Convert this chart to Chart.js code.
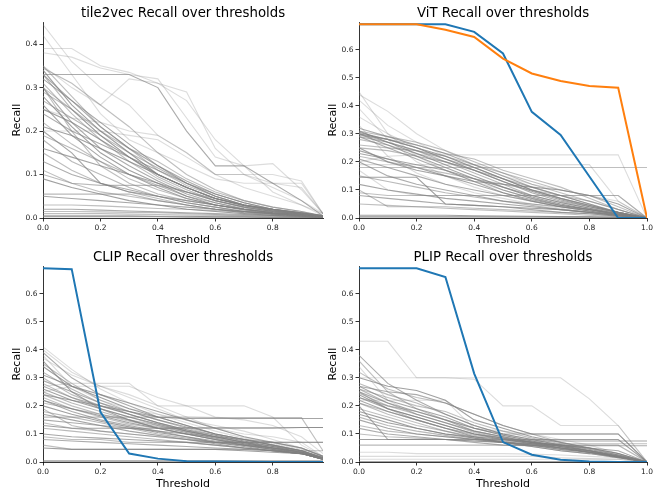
<!DOCTYPE html>
<html>
<head>
<meta charset="utf-8">
<title>Recall over thresholds</title>
<script src="https://cdn.jsdelivr.net/npm/chart.js@4.4.1/dist/chart.umd.min.js"></script>
<style>
  html, body { margin: 0; padding: 0; background: #fff; }
  #wrap { position: relative; width: 661px; height: 491px; overflow: hidden; }
  #wrap canvas { position: absolute; }
</style>
</head>
<body>
<div id="wrap">
  <canvas id="tile2vecChart" width="330" height="250" style="left:0;top:0"></canvas>
  <canvas id="vitChart" width="343" height="250" style="left:318px;top:0"></canvas>
  <canvas id="clipChart" width="330" height="246" style="left:0;top:245px"></canvas>
  <canvas id="plipChart" width="343" height="246" style="left:318px;top:245px"></canvas>
</div>
<script>
// thresholds (x values); tile2vec and CLIP stop short of 1.0
const thresholdsShort = [0, 0.1, 0.2, 0.3, 0.4, 0.5, 0.6, 0.7, 0.8, 0.9, 0.975];
const thresholdsFull = [0, 0.1, 0.2, 0.3, 0.4, 0.5, 0.6, 0.7, 0.8, 0.9, 1.0];

// ---- tile2vec: per-class recall curves ----
const tile2vecDark = [
  [0.33, 0.33, 0.33, 0.33, 0.30, 0.20, 0.12, 0.12, 0.08, 0.04, 0.005],
  [0.35, 0.28, 0.21, 0.16, 0.11, 0.075, 0.05, 0.03, 0.02, 0.012, 0.005],
  [0.34, 0.26, 0.20, 0.15, 0.10, 0.07, 0.045, 0.028, 0.018, 0.01, 0.004],
  [0.33, 0.25, 0.19, 0.14, 0.095, 0.065, 0.04, 0.025, 0.015, 0.01, 0.004],
  [0.32, 0.27, 0.22, 0.17, 0.12, 0.08, 0.055, 0.035, 0.02, 0.012, 0.005],
  [0.31, 0.24, 0.18, 0.13, 0.09, 0.06, 0.04, 0.025, 0.015, 0.01, 0.004],
  [0.30, 0.22, 0.16, 0.12, 0.085, 0.055, 0.035, 0.02, 0.012, 0.008, 0.003],
  [0.29, 0.25, 0.20, 0.16, 0.13, 0.09, 0.06, 0.04, 0.025, 0.015, 0.005],
  [0.28, 0.21, 0.15, 0.11, 0.08, 0.05, 0.03, 0.02, 0.012, 0.008, 0.003],
  [0.27, 0.23, 0.19, 0.15, 0.115, 0.08, 0.05, 0.03, 0.018, 0.01, 0.004],
  [0.26, 0.19, 0.14, 0.10, 0.07, 0.045, 0.03, 0.018, 0.01, 0.006, 0.002],
  [0.345, 0.31, 0.26, 0.21, 0.15, 0.10, 0.065, 0.04, 0.025, 0.015, 0.005],
  [0.24, 0.20, 0.17, 0.14, 0.11, 0.08, 0.05, 0.03, 0.02, 0.01, 0.004],
  [0.22, 0.17, 0.13, 0.09, 0.065, 0.045, 0.03, 0.02, 0.012, 0.008, 0.003],
  [0.21, 0.19, 0.16, 0.13, 0.10, 0.07, 0.045, 0.03, 0.02, 0.012, 0.005],
  [0.18, 0.13, 0.10, 0.07, 0.05, 0.035, 0.025, 0.015, 0.01, 0.006, 0.002],
  [0.16, 0.14, 0.12, 0.10, 0.08, 0.06, 0.04, 0.025, 0.015, 0.01, 0.004],
  [0.15, 0.11, 0.08, 0.06, 0.045, 0.03, 0.02, 0.012, 0.008, 0.005, 0.002],
  [0.13, 0.10, 0.08, 0.065, 0.05, 0.035, 0.025, 0.015, 0.01, 0.006, 0.003],
  [0.11, 0.08, 0.06, 0.05, 0.04, 0.03, 0.02, 0.012, 0.008, 0.005, 0.002],
  [0.09, 0.07, 0.055, 0.04, 0.03, 0.02, 0.015, 0.01, 0.006, 0.004, 0.002],
  [0.055, 0.055, 0.055, 0.055, 0.04, 0.03, 0.02, 0.015, 0.01, 0.006, 0.003],
  [0.05, 0.045, 0.04, 0.035, 0.03, 0.025, 0.02, 0.015, 0.01, 0.005, 0.002],
  [0.03, 0.03, 0.028, 0.025, 0.022, 0.02, 0.017, 0.014, 0.01, 0.006, 0.003],
  [0.02, 0.02, 0.018, 0.016, 0.014, 0.012, 0.01, 0.008, 0.006, 0.004, 0.002],
  [0.01, 0.01, 0.01, 0.009, 0.008, 0.007, 0.006, 0.005, 0.004, 0.003, 0.001],
  [0.003, 0.003, 0.003, 0.003, 0.003, 0.002, 0.002, 0.002, 0.001, 0.001, 0.001],
  [0.10, 0.08, 0.075, 0.075, 0.075, 0.06, 0.045, 0.03, 0.02, 0.01, 0.003],
  [0.20, 0.15, 0.08, 0.06, 0.05, 0.04, 0.03, 0.02, 0.012, 0.008, 0.003],
  [0.30, 0.20, 0.12, 0.08, 0.055, 0.04, 0.03, 0.02, 0.012, 0.008, 0.003],
  [0.33, 0.27, 0.21, 0.16, 0.12, 0.085, 0.055, 0.035, 0.02, 0.012, 0.005],
  [0.30, 0.25, 0.19, 0.14, 0.10, 0.07, 0.045, 0.03, 0.018, 0.01, 0.004],
  [0.25, 0.22, 0.18, 0.14, 0.10, 0.07, 0.045, 0.028, 0.016, 0.01, 0.004],
  [0.19, 0.16, 0.13, 0.10, 0.075, 0.05, 0.035, 0.022, 0.014, 0.008, 0.003],
  [0.005, 0.005, 0.005, 0.005, 0.004, 0.004, 0.003, 0.003, 0.002, 0.002, 0.001],
  [0.015, 0.015, 0.014, 0.013, 0.012, 0.01, 0.008, 0.006, 0.005, 0.003, 0.002]
];
const tile2vecFaint = [
  [0.445, 0.36, 0.30, 0.26, 0.19, 0.15, 0.10, 0.07, 0.05, 0.03, 0.01],
  [0.39, 0.39, 0.35, 0.335, 0.31, 0.29, 0.16, 0.10, 0.07, 0.04, 0.01],
  [0.38, 0.37, 0.345, 0.33, 0.32, 0.23, 0.14, 0.12, 0.125, 0.065, 0.01],
  [0.42, 0.33, 0.24, 0.18, 0.15, 0.12, 0.09, 0.08, 0.08, 0.08, 0.01],
  [0.35, 0.30, 0.26, 0.32, 0.31, 0.27, 0.18, 0.12, 0.06, 0.03, 0.005],
  [0.20, 0.20, 0.20, 0.19, 0.18, 0.14, 0.10, 0.10, 0.08, 0.07, 0.01],
  [0.25, 0.23, 0.22, 0.20, 0.19, 0.15, 0.10, 0.10, 0.10, 0.085, 0.01]
];

// ---- ViT ----
const vitBlue = [0.69, 0.69, 0.69, 0.69, 0.663, 0.586, 0.378, 0.296, 0.148, 0.0, 0.0];
const vitOrange = [0.69, 0.69, 0.69, 0.671, 0.645, 0.568, 0.515, 0.488, 0.47, 0.464, 0.0];
const vitDark = [
  [0.32, 0.29, 0.26, 0.23, 0.19, 0.15, 0.11, 0.08, 0.05, 0.02, 0.0],
  [0.31, 0.29, 0.27, 0.24, 0.20, 0.16, 0.12, 0.09, 0.06, 0.03, 0.0],
  [0.305, 0.28, 0.25, 0.22, 0.18, 0.14, 0.10, 0.07, 0.045, 0.02, 0.0],
  [0.30, 0.27, 0.24, 0.20, 0.16, 0.12, 0.08, 0.055, 0.035, 0.015, 0.0],
  [0.30, 0.26, 0.22, 0.18, 0.14, 0.10, 0.07, 0.045, 0.03, 0.012, 0.0],
  [0.295, 0.28, 0.26, 0.23, 0.21, 0.17, 0.14, 0.11, 0.07, 0.03, 0.0],
  [0.29, 0.25, 0.21, 0.17, 0.13, 0.09, 0.06, 0.04, 0.025, 0.01, 0.0],
  [0.28, 0.26, 0.23, 0.20, 0.17, 0.13, 0.09, 0.06, 0.04, 0.02, 0.0],
  [0.31, 0.27, 0.23, 0.19, 0.15, 0.11, 0.075, 0.05, 0.03, 0.012, 0.0],
  [0.25, 0.24, 0.22, 0.20, 0.17, 0.14, 0.11, 0.08, 0.05, 0.02, 0.0],
  [0.24, 0.21, 0.18, 0.15, 0.12, 0.09, 0.065, 0.045, 0.03, 0.012, 0.0],
  [0.22, 0.20, 0.18, 0.16, 0.14, 0.12, 0.10, 0.08, 0.06, 0.03, 0.0],
  [0.21, 0.18, 0.15, 0.12, 0.10, 0.08, 0.06, 0.04, 0.025, 0.01, 0.0],
  [0.18, 0.18, 0.18, 0.18, 0.18, 0.18, 0.18, 0.18, 0.18, 0.18, 0.18],
  [0.145, 0.145, 0.145, 0.05, 0.045, 0.04, 0.035, 0.03, 0.02, 0.01, 0.0],
  [0.15, 0.13, 0.11, 0.09, 0.075, 0.06, 0.045, 0.03, 0.02, 0.008, 0.0],
  [0.12, 0.10, 0.085, 0.07, 0.06, 0.05, 0.04, 0.03, 0.02, 0.008, 0.0],
  [0.10, 0.04, 0.04, 0.04, 0.035, 0.03, 0.025, 0.02, 0.015, 0.006, 0.0],
  [0.08, 0.07, 0.06, 0.05, 0.045, 0.04, 0.03, 0.02, 0.015, 0.006, 0.0],
  [0.05, 0.045, 0.04, 0.035, 0.03, 0.025, 0.02, 0.015, 0.01, 0.005, 0.0],
  [0.01, 0.01, 0.01, 0.01, 0.008, 0.007, 0.006, 0.005, 0.004, 0.002, 0.0],
  [0.003, 0.003, 0.003, 0.003, 0.003, 0.003, 0.003, 0.003, 0.003, 0.002, 0.0],
  [0.25, 0.20, 0.17, 0.15, 0.13, 0.12, 0.11, 0.10, 0.08, 0.05, 0.0],
  [0.26, 0.25, 0.24, 0.22, 0.19, 0.16, 0.13, 0.10, 0.08, 0.04, 0.0],
  [0.20, 0.15, 0.12, 0.10, 0.08, 0.06, 0.05, 0.04, 0.03, 0.015, 0.0],
  [0.09, 0.08, 0.08, 0.08, 0.08, 0.08, 0.08, 0.08, 0.08, 0.08, 0.0],
  [0.30, 0.28, 0.25, 0.21, 0.17, 0.13, 0.095, 0.065, 0.04, 0.018, 0.0],
  [0.29, 0.27, 0.24, 0.21, 0.18, 0.14, 0.10, 0.07, 0.045, 0.02, 0.0],
  [0.23, 0.21, 0.19, 0.17, 0.14, 0.11, 0.08, 0.055, 0.035, 0.015, 0.0],
  [0.005, 0.005, 0.005, 0.005, 0.005, 0.004, 0.004, 0.003, 0.003, 0.002, 0.0]
];
const vitFaint = [
  [0.45, 0.30, 0.22, 0.17, 0.13, 0.10, 0.07, 0.05, 0.03, 0.015, 0.0],
  [0.42, 0.33, 0.27, 0.22, 0.18, 0.14, 0.10, 0.07, 0.04, 0.02, 0.0],
  [0.39, 0.28, 0.20, 0.15, 0.11, 0.08, 0.06, 0.04, 0.025, 0.01, 0.0],
  [0.36, 0.30, 0.25, 0.21, 0.17, 0.13, 0.09, 0.06, 0.035, 0.015, 0.0],
  [0.33, 0.22, 0.16, 0.12, 0.09, 0.07, 0.05, 0.035, 0.02, 0.01, 0.0],
  [0.44, 0.38, 0.30, 0.24, 0.19, 0.15, 0.12, 0.10, 0.08, 0.06, 0.0],
  [0.20, 0.22, 0.225, 0.225, 0.225, 0.225, 0.225, 0.225, 0.225, 0.225, 0.0],
  [0.19, 0.19, 0.19, 0.19, 0.19, 0.19, 0.19, 0.19, 0.19, 0.06, 0.0],
  [0.17, 0.10, 0.08, 0.08, 0.08, 0.08, 0.08, 0.08, 0.08, 0.08, 0.0]
];

// ---- CLIP ----
const clipBlue = [0.69, 0.687, 0.178, 0.03, 0.012, 0.003, 0.002, 0.001, 0.0, 0.0, 0.0];
const clipDark = [
  [0.39, 0.30, 0.24, 0.20, 0.16, 0.13, 0.10, 0.08, 0.06, 0.04, 0.012],
  [0.35, 0.28, 0.22, 0.18, 0.15, 0.12, 0.095, 0.075, 0.055, 0.035, 0.012],
  [0.34, 0.27, 0.23, 0.19, 0.16, 0.13, 0.10, 0.08, 0.06, 0.04, 0.015],
  [0.32, 0.26, 0.21, 0.17, 0.14, 0.115, 0.09, 0.07, 0.05, 0.035, 0.012],
  [0.31, 0.27, 0.24, 0.21, 0.18, 0.15, 0.12, 0.09, 0.07, 0.05, 0.02],
  [0.30, 0.24, 0.20, 0.17, 0.14, 0.11, 0.09, 0.07, 0.05, 0.035, 0.01],
  [0.29, 0.25, 0.21, 0.18, 0.15, 0.125, 0.10, 0.08, 0.06, 0.04, 0.015],
  [0.28, 0.23, 0.19, 0.16, 0.13, 0.105, 0.085, 0.065, 0.05, 0.03, 0.01],
  [0.26, 0.22, 0.19, 0.16, 0.135, 0.11, 0.09, 0.07, 0.055, 0.04, 0.015],
  [0.25, 0.21, 0.18, 0.15, 0.12, 0.10, 0.08, 0.06, 0.045, 0.03, 0.01],
  [0.24, 0.22, 0.20, 0.18, 0.16, 0.155, 0.155, 0.155, 0.155, 0.155, 0.155],
  [0.23, 0.19, 0.16, 0.135, 0.12, 0.123, 0.123, 0.123, 0.123, 0.123, 0.123],
  [0.22, 0.18, 0.15, 0.13, 0.11, 0.09, 0.075, 0.06, 0.045, 0.03, 0.01],
  [0.21, 0.19, 0.17, 0.15, 0.13, 0.11, 0.09, 0.07, 0.05, 0.035, 0.012],
  [0.20, 0.17, 0.145, 0.125, 0.105, 0.09, 0.07, 0.055, 0.04, 0.03, 0.01],
  [0.18, 0.16, 0.14, 0.12, 0.10, 0.085, 0.07, 0.07, 0.07, 0.07, 0.07],
  [0.17, 0.15, 0.13, 0.11, 0.095, 0.08, 0.065, 0.05, 0.04, 0.03, 0.01],
  [0.16, 0.16, 0.16, 0.16, 0.16, 0.16, 0.158, 0.158, 0.158, 0.158, 0.04],
  [0.15, 0.14, 0.13, 0.12, 0.11, 0.10, 0.09, 0.08, 0.07, 0.05, 0.02],
  [0.14, 0.12, 0.11, 0.10, 0.09, 0.08, 0.07, 0.06, 0.05, 0.04, 0.015],
  [0.13, 0.12, 0.12, 0.12, 0.12, 0.12, 0.12, 0.12, 0.12, 0.123, 0.123],
  [0.12, 0.11, 0.10, 0.09, 0.08, 0.07, 0.06, 0.05, 0.04, 0.03, 0.01],
  [0.10, 0.09, 0.085, 0.08, 0.075, 0.07, 0.06, 0.05, 0.04, 0.03, 0.01],
  [0.09, 0.08, 0.08, 0.07, 0.07, 0.07, 0.07, 0.07, 0.07, 0.07, 0.07],
  [0.08, 0.075, 0.07, 0.065, 0.06, 0.055, 0.05, 0.045, 0.04, 0.03, 0.01],
  [0.06, 0.045, 0.045, 0.045, 0.045, 0.045, 0.045, 0.045, 0.04, 0.04, 0.04],
  [0.05, 0.045, 0.045, 0.045, 0.045, 0.045, 0.045, 0.04, 0.035, 0.03, 0.015],
  [0.002, 0.002, 0.002, 0.002, 0.002, 0.002, 0.002, 0.002, 0.002, 0.002, 0.002],
  [0.36, 0.25, 0.19, 0.15, 0.12, 0.10, 0.08, 0.06, 0.045, 0.03, 0.01],
  [0.19, 0.13, 0.11, 0.10, 0.09, 0.08, 0.07, 0.06, 0.05, 0.035, 0.012],
  [0.27, 0.23, 0.20, 0.17, 0.14, 0.115, 0.095, 0.075, 0.055, 0.035, 0.012],
  [0.24, 0.20, 0.17, 0.145, 0.125, 0.105, 0.085, 0.065, 0.05, 0.035, 0.012],
  [0.22, 0.19, 0.165, 0.14, 0.12, 0.10, 0.08, 0.065, 0.05, 0.035, 0.012],
  [0.005, 0.005, 0.005, 0.005, 0.005, 0.005, 0.005, 0.005, 0.005, 0.005, 0.005]
];
const clipFaint = [
  [0.41, 0.33, 0.26, 0.21, 0.17, 0.14, 0.11, 0.085, 0.06, 0.04, 0.015],
  [0.37, 0.31, 0.27, 0.23, 0.19, 0.15, 0.12, 0.09, 0.065, 0.045, 0.015],
  [0.27, 0.28, 0.28, 0.28, 0.20, 0.20, 0.20, 0.20, 0.16, 0.06, 0.02],
  [0.38, 0.27, 0.22, 0.19, 0.17, 0.15, 0.13, 0.11, 0.08, 0.05, 0.02],
  [0.40, 0.32, 0.27, 0.24, 0.20, 0.16, 0.12, 0.10, 0.09, 0.07, 0.02],
  [0.25, 0.27, 0.27, 0.27, 0.23, 0.20, 0.16, 0.15, 0.13, 0.09, 0.03]
];

// ---- PLIP ----
const plipBlue = [0.69, 0.69, 0.69, 0.659, 0.315, 0.071, 0.026, 0.008, 0.002, 0.0, 0.0];
const plipDark = [
  [0.38, 0.28, 0.22, 0.17, 0.13, 0.10, 0.08, 0.06, 0.04, 0.02, 0.0],
  [0.36, 0.25, 0.19, 0.15, 0.12, 0.095, 0.075, 0.055, 0.035, 0.02, 0.0],
  [0.30, 0.27, 0.255, 0.22, 0.15, 0.12, 0.09, 0.07, 0.05, 0.03, 0.0],
  [0.28, 0.24, 0.21, 0.17, 0.13, 0.10, 0.08, 0.06, 0.04, 0.02, 0.0],
  [0.27, 0.22, 0.19, 0.16, 0.12, 0.095, 0.075, 0.055, 0.04, 0.02, 0.0],
  [0.26, 0.23, 0.20, 0.18, 0.14, 0.11, 0.085, 0.065, 0.045, 0.025, 0.0],
  [0.25, 0.21, 0.18, 0.15, 0.11, 0.09, 0.07, 0.05, 0.035, 0.018, 0.0],
  [0.245, 0.20, 0.17, 0.14, 0.105, 0.085, 0.065, 0.05, 0.035, 0.018, 0.0],
  [0.24, 0.19, 0.16, 0.13, 0.10, 0.08, 0.065, 0.05, 0.035, 0.018, 0.0],
  [0.23, 0.20, 0.18, 0.15, 0.12, 0.10, 0.10, 0.10, 0.10, 0.10, 0.0],
  [0.22, 0.18, 0.15, 0.12, 0.09, 0.07, 0.055, 0.04, 0.03, 0.015, 0.0],
  [0.21, 0.17, 0.14, 0.11, 0.085, 0.07, 0.055, 0.04, 0.03, 0.015, 0.0],
  [0.20, 0.08, 0.08, 0.08, 0.075, 0.07, 0.065, 0.06, 0.05, 0.04, 0.0],
  [0.19, 0.16, 0.13, 0.11, 0.09, 0.075, 0.06, 0.045, 0.035, 0.018, 0.0],
  [0.18, 0.15, 0.12, 0.10, 0.085, 0.07, 0.06, 0.045, 0.035, 0.018, 0.0],
  [0.16, 0.13, 0.11, 0.095, 0.08, 0.07, 0.06, 0.05, 0.04, 0.02, 0.0],
  [0.15, 0.12, 0.10, 0.09, 0.08, 0.075, 0.075, 0.075, 0.075, 0.075, 0.075],
  [0.13, 0.11, 0.10, 0.09, 0.08, 0.07, 0.065, 0.065, 0.065, 0.065, 0.065],
  [0.12, 0.10, 0.09, 0.08, 0.07, 0.06, 0.058, 0.058, 0.058, 0.058, 0.058],
  [0.10, 0.09, 0.085, 0.08, 0.075, 0.07, 0.06, 0.05, 0.04, 0.025, 0.0],
  [0.08, 0.08, 0.08, 0.08, 0.08, 0.08, 0.08, 0.08, 0.08, 0.08, 0.0],
  [0.06, 0.06, 0.06, 0.06, 0.06, 0.06, 0.06, 0.06, 0.06, 0.06, 0.0],
  [0.002, 0.002, 0.002, 0.002, 0.002, 0.002, 0.002, 0.002, 0.002, 0.002, 0.0],
  [0.32, 0.26, 0.23, 0.21, 0.17, 0.13, 0.10, 0.07, 0.05, 0.025, 0.0],
  [0.27, 0.25, 0.24, 0.21, 0.17, 0.13, 0.10, 0.10, 0.10, 0.10, 0.0],
  [0.25, 0.19, 0.15, 0.12, 0.10, 0.085, 0.07, 0.06, 0.045, 0.025, 0.0],
  [0.17, 0.14, 0.12, 0.10, 0.09, 0.08, 0.07, 0.06, 0.05, 0.03, 0.0],
  [0.26, 0.21, 0.17, 0.14, 0.11, 0.09, 0.07, 0.055, 0.04, 0.02, 0.0],
  [0.23, 0.19, 0.16, 0.13, 0.10, 0.085, 0.07, 0.055, 0.04, 0.02, 0.0],
  [0.21, 0.18, 0.15, 0.12, 0.095, 0.08, 0.065, 0.05, 0.035, 0.018, 0.0]
];
const plipFaint = [
  [0.43, 0.43, 0.30, 0.30, 0.30, 0.30, 0.30, 0.30, 0.225, 0.13, 0.0],
  [0.30, 0.30, 0.30, 0.30, 0.295, 0.20, 0.20, 0.13, 0.13, 0.13, 0.0],
  [0.34, 0.22, 0.17, 0.14, 0.11, 0.09, 0.07, 0.05, 0.035, 0.018, 0.0],
  [0.22, 0.22, 0.22, 0.22, 0.12, 0.11, 0.10, 0.08, 0.06, 0.03, 0.0],
  [0.035, 0.035, 0.03, 0.03, 0.03, 0.03, 0.028, 0.025, 0.02, 0.015, 0.0],
  [0.02, 0.02, 0.02, 0.02, 0.02, 0.02, 0.02, 0.015, 0.012, 0.01, 0.0],
  [0.01, 0.01, 0.01, 0.01, 0.01, 0.01, 0.01, 0.01, 0.01, 0.01, 0.0]
];

// ============================================
// styling
// ============================================
const BLUE = '#1f77b4';
const ORANGE = '#ff7f0e';
const darkAlphas = [0.65, 0.5, 0.75, 0.55, 0.7, 0.5];
const faintAlpha = 0.28;

Chart.defaults.font.family = "'DejaVu Sans', sans-serif";
Chart.defaults.color = '#222';

function toPoints(xs, ys) {
  return ys.map((y, i) => ({ x: xs[i], y: y }));
}

function buildDatasets(xs, highlights, dark, faint) {
  const sets = [];
  // coloured curves first so they end up drawn on top
  highlights.forEach(h => sets.push({
    data: toPoints(xs, h.values),
    borderColor: h.color,
    borderWidth: 2
  }));
  dark.forEach((ys, i) => sets.push({
    data: toPoints(xs, ys),
    borderColor: `rgba(128, 128, 128, ${darkAlphas[i % darkAlphas.length]})`,
    borderWidth: 1.1
  }));
  faint.forEach(ys => sets.push({
    data: toPoints(xs, ys),
    borderColor: `rgba(128, 128, 128, ${faintAlpha})`,
    borderWidth: 1.1
  }));
  return sets;
}

function makePanel(id, cfg) {
  const ctx = document.getElementById(id);
  return new Chart(ctx, {
    type: 'line',
    data: { datasets: buildDatasets(cfg.xs, cfg.highlights, cfg.dark, cfg.faint) },
    options: {
      responsive: false,
      animation: false,
      events: [],
      elements: { point: { radius: 0 }, line: { tension: 0 } },
      layout: { padding: { left: 0, right: cfg.padRight, top: 0, bottom: 0 } },
      plugins: {
        legend: { display: false },
        tooltip: { enabled: false },
        title: {
          display: true,
          text: cfg.title,
          fullSize: false,
          color: '#000',
          font: { size: 13.3, weight: 'normal' },
          padding: { top: cfg.titleTop, bottom: cfg.titleBottom }
        }
      },
      scales: {
        x: {
          type: 'linear',
          min: 0,
          max: cfg.xMax,
          afterFit: s => { s.height = cfg.xAxisHeight; },
          border: { display: true, color: '#000', width: 0.8 },
          grid: { drawOnChartArea: false, drawTicks: true, tickLength: 3.5, tickColor: '#000', tickWidth: 0.8 },
          ticks: {
            stepSize: 0.2,
            includeBounds: false,
            maxRotation: 0,
            padding: 2,
            font: { size: 7.5 },
            callback: v => v.toFixed(1)
          },
          title: {
            display: true,
            text: 'Threshold',
            color: '#000',
            font: { size: 11 },
            padding: { top: 0, bottom: cfg.xTitlePad }
          }
        },
        y: {
          min: 0,
          max: cfg.yMax,
          afterFit: s => { s.width = cfg.yAxisWidth; },
          border: { display: true, color: '#000', width: 0.8 },
          grid: { drawOnChartArea: false, drawTicks: true, tickLength: 3.5, tickColor: '#000', tickWidth: 0.8 },
          ticks: {
            stepSize: 0.1,
            includeBounds: false,
            padding: 2,
            font: { size: 7.5 },
            callback: v => v.toFixed(1)
          },
          title: {
            display: true,
            text: 'Recall',
            color: '#000',
            font: { size: 11 },
            padding: { top: cfg.yTitlePad, bottom: 0 }
          }
        }
      }
    }
  });
}

document.addEventListener('DOMContentLoaded', () => {
  makePanel('tile2vecChart', {
    title: 'tile2vec Recall over thresholds',
    xs: thresholdsShort, xMax: 0.975, yMax: 0.45,
    highlights: [], dark: tile2vecDark, faint: tile2vecFaint,
    padRight: 7, yAxisWidth: 43, xAxisHeight: 32,
    titleTop: 5.5, titleBottom: 0.9, xTitlePad: 3, yTitlePad: 11
  });
  makePanel('vitChart', {
    title: 'ViT Recall over thresholds',
    xs: thresholdsFull, xMax: 1.0, yMax: 0.697,
    highlights: [{ values: vitOrange, color: ORANGE }, { values: vitBlue, color: BLUE }],
    dark: vitDark, faint: vitFaint,
    padRight: 14, yAxisWidth: 41, xAxisHeight: 32,
    titleTop: 5.5, titleBottom: 0.9, xTitlePad: 3, yTitlePad: 9
  });
  makePanel('clipChart', {
    title: 'CLIP Recall over thresholds',
    xs: thresholdsShort, xMax: 0.975, yMax: 0.697,
    highlights: [{ values: clipBlue, color: BLUE }],
    dark: clipDark, faint: clipFaint,
    padRight: 7, yAxisWidth: 43, xAxisHeight: 29,
    titleTop: 4.5, titleBottom: 0.9, xTitlePad: 0.5, yTitlePad: 11
  });
  makePanel('plipChart', {
    title: 'PLIP Recall over thresholds',
    xs: thresholdsFull, xMax: 1.0, yMax: 0.697,
    highlights: [{ values: plipBlue, color: BLUE }],
    dark: plipDark, faint: plipFaint,
    padRight: 14, yAxisWidth: 41, xAxisHeight: 29,
    titleTop: 4.5, titleBottom: 0.9, xTitlePad: 0.5, yTitlePad: 9
  });
});
</script>
</body>
</html>
